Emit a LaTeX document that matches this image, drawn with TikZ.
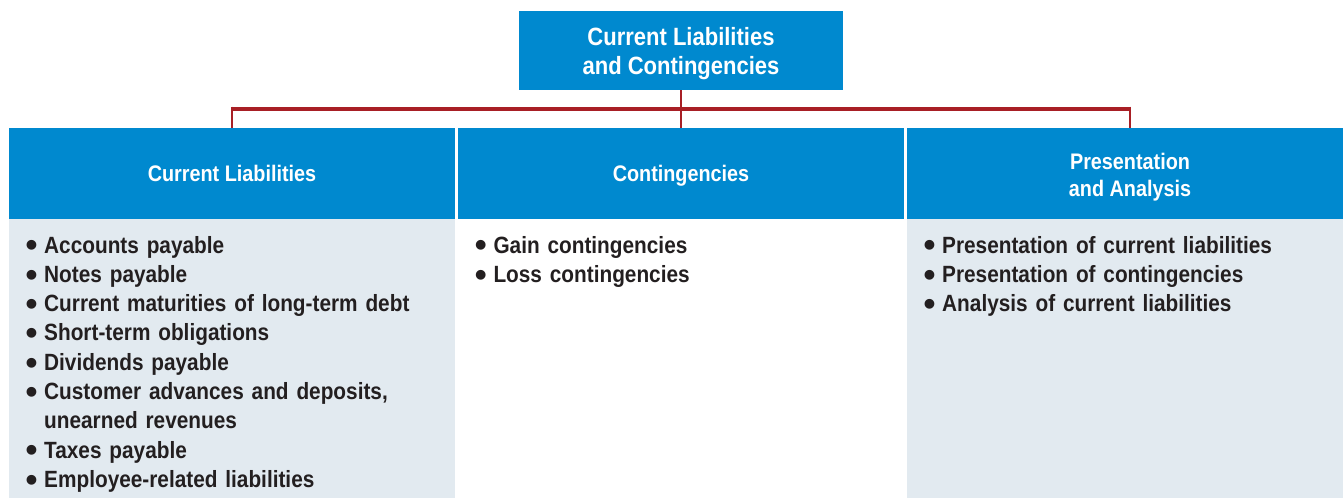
\documentclass[tikz,border=0pt]{standalone}
\usepackage{fontspec}
\setmainfont{Liberation Sans}[FakeStretch=0.885]
\newfontfamily\hdrfam{Liberation Sans}[FakeStretch=0.88]
\newfontfamily\bulfam{Liberation Sans}
\definecolor{cblue}{HTML}{0089CF}
\definecolor{cred}{HTML}{A81F25}
\definecolor{cpale}{HTML}{E2EAF0}
\definecolor{ctext}{HTML}{231F20}
\newcommand{\cfTitle}{\hdrfam\fontsize{25}{29}\selectfont\bfseries}
\newcommand{\cfHdr}{\hdrfam\fontsize{22.5}{27}\selectfont\bfseries}
\newcommand{\cfList}{\fontsize{23.5}{29.3}\selectfont\bfseries}
\newcommand{\bulmark}{\makebox[18.6pt][l]{\smash{\raisebox{-3.8pt}{\bulfam\fontsize{34}{0}\selectfont\textbullet}}}}
\newcommand{\itm}[1]{\bulmark#1\par}
\newcommand{\cont}[1]{\hspace*{18.6pt}#1\par}
\begin{document}
\begin{tikzpicture}[x=1pt,y=-1pt,
  boxbase/.style={fill=cblue, text=white, align=center, inner sep=0pt, outer sep=0pt},
  hdrbox/.style={boxbase, font=\cfHdr, minimum width=446pt, minimum height=91pt,
    text height=16pt, text depth=0pt},
  hdrboxtwo/.style={boxbase, font=\cfHdr, minimum width=446pt, minimum height=91pt,
    text height=45pt, text depth=0pt},
  titlebox/.style={boxbase, font=\cfTitle, minimum width=324pt, minimum height=79pt,
    text height=47pt, text depth=0pt},
  listbox/.style={anchor=base west, inner sep=0pt, text width=440pt,
    text=ctext, font=\cfList, align=left},
  busline/.style={draw=cred, line width=4pt},
  dropline/.style={draw=cred, line width=2.5pt}]
\useasboundingbox (0,0) rectangle (1343,498);
% body backgrounds
\fill[cpale] (9,219) rectangle (455,498);
\fill[cpale] (907,219) rectangle (1353,498);
% title and headers
\node[titlebox] (top) at (681,50.5) {Current Liabilities\\and Contingencies};
\node[hdrbox] (h1) at (232,173.5) {Current Liabilities};
\node[hdrbox] (h2) at (681,173.5) {Contingencies};
\node[hdrboxtwo] (h3) at (1130,173.5) {Presentation\\and Analysis};
% connectors
\coordinate (bus) at (681,108.7);
\coordinate (bustop) at (681,106.7);
\draw[busline] ([xshift=-1.25pt]h1.north |- bus) -- ([xshift=1.25pt]h3.north |- bus);
\draw[dropline] (top.south) -- (top.south |- bustop);
\draw[dropline] (h1.north |- bustop) -- (h1.north);
\draw[dropline] (h2.north |- bustop) -- (h2.north);
\draw[dropline] (h3.north |- bustop) -- (h3.north);
% lists
\node[listbox] (l1) at (25.4,253) {%
\itm{Accounts payable}
\itm{Notes payable}
\itm{Current maturities of long-term debt}
\itm{Short-term obligations}
\itm{Dividends payable}
\itm{Customer advances and deposits,}
\cont{unearned revenues}
\itm{Taxes payable}
\itm{Employee-related liabilities}};
\node[listbox] (l2) at (474.7,253) {%
\itm{Gain contingencies}
\itm{Loss contingencies}};
\node[listbox] (l3) at (923.4,253) {%
\itm{Presentation of current liabilities}
\itm{Presentation of contingencies}
\itm{Analysis of current liabilities}};
\end{tikzpicture}
\end{document}
